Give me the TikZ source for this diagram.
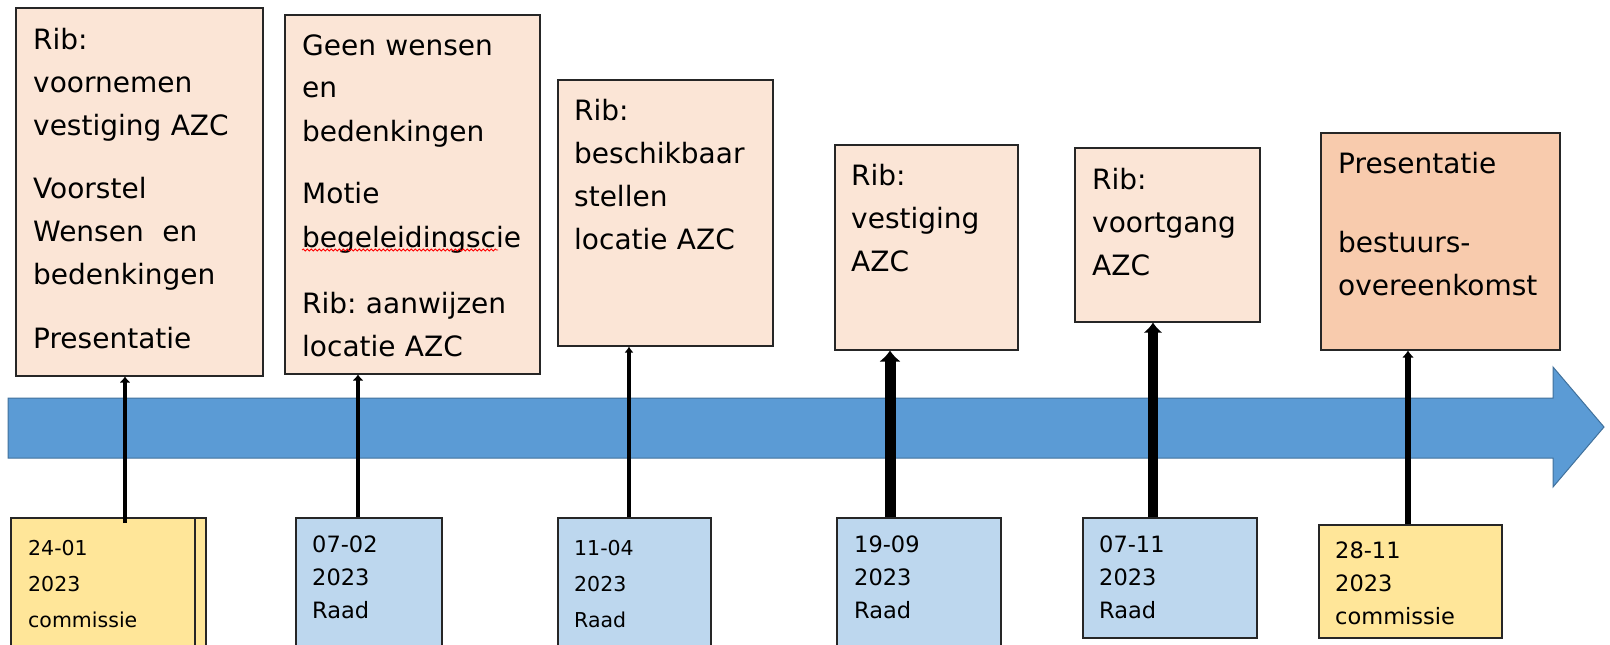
\documentclass[tikz,border=0pt]{standalone}
\usepackage{fontspec}
\setmainfont{DejaVu Sans}
\usepackage{tikz}
\usetikzlibrary{arrows.meta, calc, decorations.pathmorphing}
\definecolor{peach}{HTML}{FBE5D6}
\definecolor{apricot}{HTML}{F8CBAD}
\definecolor{raadblue}{HTML}{BDD7EE}
\definecolor{commgold}{HTML}{FFE699}
\definecolor{barblue}{HTML}{5B9BD5}
\definecolor{barline}{HTML}{41719C}
\frenchspacing

\begin{document}
\begin{tikzpicture}[x=1pt, y=-1pt,
                    box/.style={draw=black!85, line width=1.5pt, inner sep=0pt,
                                anchor=north west},
                    event/.style={box, fill=peach},
                    raad/.style={box, fill=raadblue},
                    comm/.style={box, fill=commgold},
                    evtext/.style={anchor=base west, inner sep=0pt, text width=235pt,
                                   align=left, font=\fontsize{28}{43}\selectfont},
                    datetext/.style={anchor=base west, inner sep=0pt, text width=160pt,
                                   align=left, font=\fontsize{22.5}{33}\selectfont},
                    smalldate/.style={datetext, font=\fontsize{20.5}{36}\selectfont},
                    conn/.style={draw=black}]
    \clip (0,0) rectangle (1610,645);

    % events
    \node[event, minimum width=247pt, minimum height=368pt] (voornemen) at (15,7) {};
    \node[evtext] (voornemenText) at ($(voornemen.north west)+(18,42)$)
        {Rib:\\ voornemen\\ vestiging AZC\\[20pt] Voorstel\\ Wensen~ en\\ bedenkingen\\[21pt] Presentatie};

    \node[event, minimum width=255pt, minimum height=359pt] (geenWensen) at (284,14) {};
    \node[evtext] (geenWensenText) at ($(geenWensen.north west)+(18,41)$)
        {Geen wensen\\ en\\ bedenkingen\\[20pt] Motie\\ begeleidingscie\\[24pt] Rib: aanwijzen\\ locatie AZC};
    \draw[red, line width=0.8pt, decorate, decoration={snake, amplitude=1pt, segment length=4pt}]
        ($(geenWensenText.base west)+(0,195)$) -- ++(196,0);

    \node[event, minimum width=215pt, minimum height=266pt] (beschikbaar) at (557,79) {};
    \node[evtext] (beschikbaarText) at ($(beschikbaar.north west)+(17,41)$)
        {Rib:\\ beschikbaar\\ stellen\\ locatie AZC};

    \node[event, minimum width=183pt, minimum height=205pt] (vestiging) at (834,144) {};
    \node[evtext] (vestigingText) at ($(vestiging.north west)+(17,41)$)
        {Rib:\\ vestiging\\ AZC};

    \node[event, minimum width=185pt, minimum height=174pt] (voortgang) at (1074,147) {};
    \node[evtext] (voortgangText) at ($(voortgang.north west)+(18,42)$)
        {Rib:\\ voortgang\\ AZC};

    \node[event, fill=apricot, minimum width=239pt, minimum height=217pt] (presentatie) at (1320,132) {};
    \node[evtext] (presentatieText) at ($(presentatie.north west)+(18,41)$)
        {Presentatie\\[36pt] bestuurs-\\ overeenkomst};

    % dates
    \node[comm, minimum width=195pt, minimum height=150pt] (jan24back) at (10,517) {};
    \node[comm, minimum width=184pt, minimum height=150pt] (jan24) at (10,517) {};
    \node[smalldate] (jan24Text) at ($(jan24.north west)+(18,38)$) {24-01\\ 2023\\ commissie};

    \node[raad, minimum width=146pt, minimum height=150pt] (feb07) at (295,517) {};
    \node[datetext] (feb07Text) at ($(feb07.north west)+(17,35)$) {07-02\\ 2023\\ Raad};

    \node[raad, minimum width=153pt, minimum height=150pt] (apr11) at (557,517) {};
    \node[smalldate] (apr11Text) at ($(apr11.north west)+(17,38)$) {11-04\\ 2023\\ Raad};

    \node[raad, minimum width=164pt, minimum height=150pt] (sep19) at (836,517) {};
    \node[datetext] (sep19Text) at ($(sep19.north west)+(18,35)$) {19-09\\ 2023\\ Raad};

    \node[raad, minimum width=174pt, minimum height=120pt] (nov07) at (1082,517) {};
    \node[datetext] (nov07Text) at ($(nov07.north west)+(17,35)$) {07-11\\ 2023\\ Raad};

    \node[comm, minimum width=183pt, minimum height=113pt] (nov28) at (1318,524) {};
    \node[datetext] (nov28Text) at ($(nov28.north west)+(17,34)$) {28-11\\ 2023\\ commissie};

    % timeline
    \draw[fill=barblue, draw=barline, line width=1pt]
        (8,398) -- (1553,398) -- (1553,367) -- (1604,427) -- (1553,487)
        -- (1553,458) -- (8,458) -- cycle;

    % connectors
    \draw[conn, line width=4.5pt, -{Latex[length=6pt, width=11pt]}]
        ([yshift=-6pt]jan24.north -| 125,0) -- (voornemen.south -| 125,0);
    \draw[conn, line width=4.5pt, -{Latex[length=6pt, width=11pt]}]
        (feb07.north -| 358,0) -- (geenWensen.south -| 358,0);
    \draw[conn, line width=4.5pt, -{Latex[length=6pt, width=9pt]}]
        (apr11.north -| 629,0) -- (beschikbaar.south -| 629,0);
    \draw[conn, line width=11pt, -{Latex[length=11pt, width=22pt]}]
        (sep19.north -| 890,0) -- (vestiging.south -| 890,0);
    \draw[conn, line width=10pt, -{Latex[length=10pt, width=19pt]}]
        (nov07.north -| 1153,0) -- (voortgang.south -| 1153,0);
    \draw[conn, line width=6pt, -{Latex[length=7pt, width=12pt]}]
        (nov28.north -| 1408,0) -- (presentatie.south -| 1408,0);
\end{tikzpicture}
\end{document}
